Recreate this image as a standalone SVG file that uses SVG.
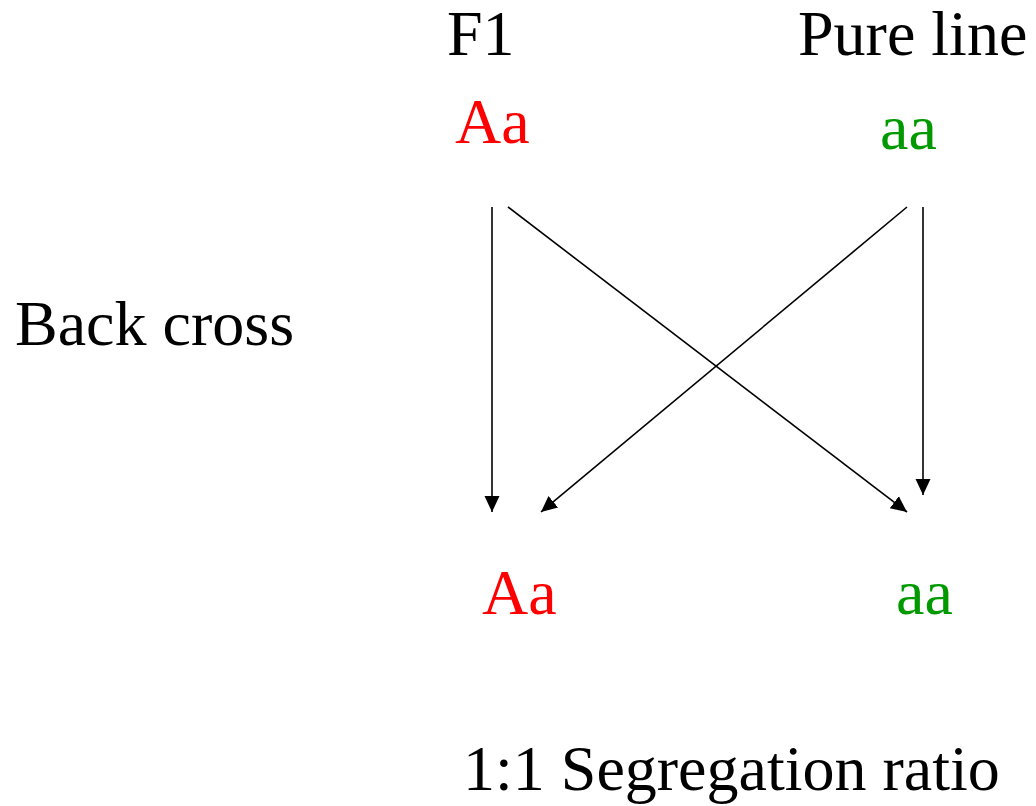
<svg xmlns="http://www.w3.org/2000/svg" width="1036" height="806" viewBox="0 0 1036 806">
<style>
text{font-family:"Liberation Serif","Times New Roman",serif;font-size:64px}
.k{fill:#000}
.r{fill:#ff0000}
.g{fill:#009900}
.c{stroke:#000;stroke-width:1.6;fill:none}
</style>
<defs>
<marker id="ah" markerUnits="userSpaceOnUse" markerWidth="18" markerHeight="18" viewBox="0 0 18 18" refX="16" refY="9" orient="auto">
<path d="M0,1.5 L16,9 L0,16.5 Z" fill="#000"/>
</marker>
</defs>
<rect width="1036" height="806" fill="#fff"/>
<g id="label-f1"><text class="k" x="447" y="55">F1</text></g>
<g id="label-pure"><text class="k" x="798" y="55">Pure line</text></g>
<g id="parent-Aa"><text class="r" x="455" y="143">Aa</text></g>
<g id="parent-aa"><text class="g" x="880" y="149">aa</text></g>
<g id="label-back"><text class="k" x="15" y="345">Back cross</text></g>
<g id="child-Aa"><text class="r" x="482" y="614">Aa</text></g>
<g id="child-aa"><text class="g" x="896" y="614">aa</text></g>
<g id="label-ratio"><text class="k" x="463" y="790">1:1 Segregation ratio</text></g>
<g id="connectors">
<line class="c" x1="492" y1="207" x2="492" y2="512" marker-end="url(#ah)"/>
<line class="c" x1="508" y1="207" x2="907" y2="512" marker-end="url(#ah)"/>
<line class="c" x1="907" y1="207" x2="541" y2="512" marker-end="url(#ah)"/>
<line class="c" x1="923" y1="207" x2="923" y2="495" marker-end="url(#ah)"/>
</g>
</svg>
